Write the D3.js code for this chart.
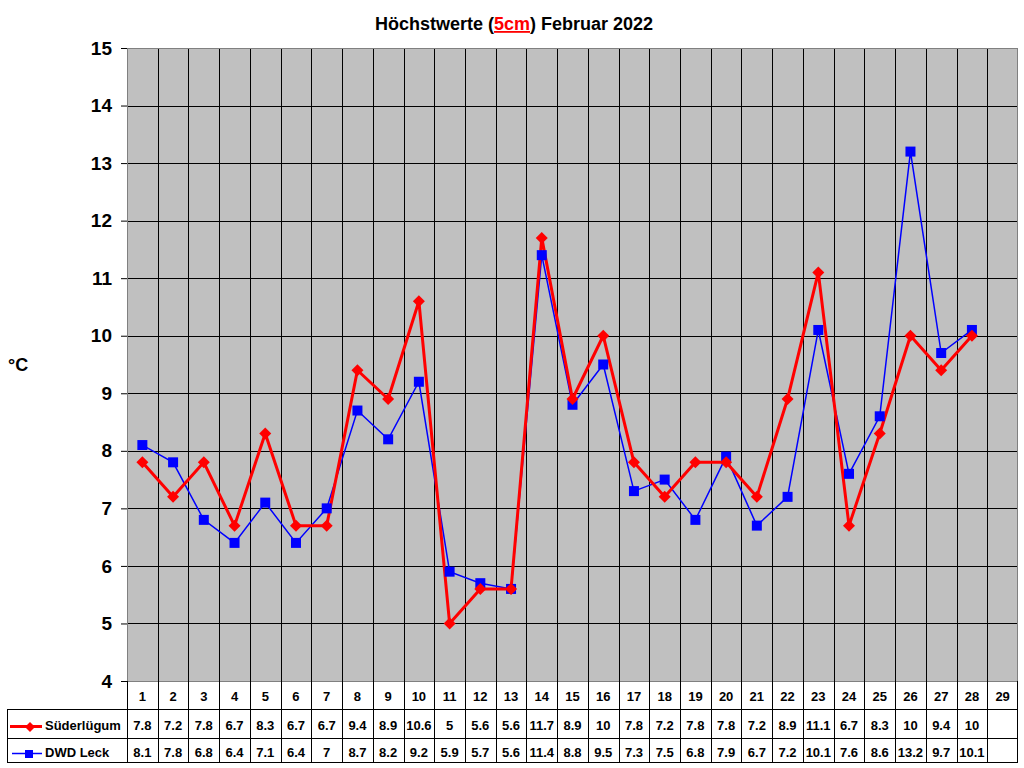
<!DOCTYPE html>
<html>
<head>
<meta charset="utf-8">
<script src="https://cdn.jsdelivr.net/npm/d3@7"></script>
<style>
  body { margin: 0; background: #fff; }
  text { font-family: 'Liberation Sans', Arial, sans-serif; font-weight: bold; }
</style>
</head>
<body>
<svg width="1024" height="768"></svg>
<script>
// days of february (29 columns, last one empty)
let days = d3.range(1, 30)
let sueder = [7.8, 7.2, 7.8, 6.7, 8.3, 6.7, 6.7, 9.4, 8.9, 10.6, 5, 5.6, 5.6, 11.7, 8.9, 10, 7.8, 7.2, 7.8, 7.8, 7.2, 8.9, 11.1, 6.7, 8.3, 10, 9.4, 10]
let leck = [8.1, 7.8, 6.8, 6.4, 7.1, 6.4, 7, 8.7, 8.2, 9.2, 5.9, 5.7, 5.6, 11.4, 8.8, 9.5, 7.3, 7.5, 6.8, 7.9, 6.7, 7.2, 10.1, 7.6, 8.6, 13.2, 9.7, 10.1]
let yTicks = d3.range(4, 16)

let svg = d3.select('svg')
let pLeft = 127, pRight = 1018, pTop = 48, pBottom = 681

let x = d3.scaleBand().domain(days).range([pLeft, pRight])
let y = d3.scaleLinear().domain([4, 15]).range([pBottom, pTop])

// title
let title = svg.append('text')
  .attr('x', 514).attr('y', 30)
  .attr('text-anchor', 'middle')
  .style('font-size', '18px')
title.append('tspan').text('Höchstwerte (')
title.append('tspan').text('5cm').attr('fill', '#ff0000').style('text-decoration', 'underline')
title.append('tspan').text(') Februar 2022')

// plot background
svg.append('rect')
  .attr('x', pLeft).attr('y', pTop)
  .attr('width', pRight - pLeft).attr('height', pBottom - pTop)
  .attr('fill', '#c0c0c0')

// vertical grid lines
svg.append('g').selectAll('line')
  .data(days.slice(1))
  .join('line')
  .attr('x1', d => Math.round(x(d)) + 0.5).attr('x2', d => Math.round(x(d)) + 0.5)
  .attr('y1', pTop).attr('y2', pBottom)
  .attr('stroke', '#000')

// horizontal grid lines
svg.append('g').selectAll('line')
  .data(yTicks)
  .join('line')
  .attr('x1', pLeft).attr('x2', pRight)
  .attr('y1', d => Math.round(y(d)) + 0.5).attr('y2', d => Math.round(y(d)) + 0.5)
  .attr('stroke', d => d === 15 ? '#808080' : '#000')

// y axis
let yAxis = svg.append('g')
  .attr('transform', 'translate(' + pLeft + ',0)')
  .call(d3.axisLeft(y).tickValues(yTicks).tickSize(6).tickPadding(9).tickFormat(d3.format('d')))
yAxis.select('.domain').remove()
yAxis.selectAll('line').attr('stroke', '#000')
yAxis.selectAll('text')
  .style('font-size', '19px')
  .style('font-family', "'Liberation Sans', Arial, sans-serif")
  .style('font-weight', 'bold')
  .attr('fill', '#000')

svg.append('text')
  .attr('x', 8).attr('y', 371)
  .style('font-size', '18px')
  .text('°C')

// plot border
svg.append('rect')
  .attr('x', pLeft + 0.5).attr('y', pTop + 0.5)
  .attr('width', pRight - pLeft - 1).attr('height', pBottom - pTop)
  .attr('fill', 'none').attr('stroke', '#808080')

// lines
let line = d3.line()
  .x((d, i) => x(days[i]) + x.bandwidth() / 2)
  .y(d => y(d))

svg.append('path')
  .datum(leck)
  .attr('fill', 'none')
  .attr('stroke', '#0000ff')
  .attr('stroke-width', 1.5)
  .attr('d', line)

svg.append('path')
  .datum(sueder)
  .attr('fill', 'none')
  .attr('stroke', '#ff0000')
  .attr('stroke-width', 3)
  .attr('stroke-linejoin', 'round')
  .attr('d', line)

svg.append('g').selectAll('rect')
  .data(leck)
  .join('rect')
  .attr('x', (d, i) => x(days[i]) + x.bandwidth() / 2 - 5)
  .attr('y', d => y(d) - 5)
  .attr('width', 10).attr('height', 10)
  .attr('fill', '#0000ff')

svg.append('g').selectAll('path')
  .data(sueder)
  .join('path')
  .attr('transform', (d, i) => 'translate(' + (x(days[i]) + x.bandwidth() / 2) + ',' + y(d) + ')')
  .attr('d', 'M0,-6L6,0L0,6L-6,0Z')
  .attr('fill', '#ff0000')

// data table
let table = svg.append('g')

// horizontal lines of the table
table.selectAll('.hl')
  .data([709, 738, 762])
  .join('line')
  .attr('x1', 7).attr('x2', pRight)
  .attr('y1', d => d + 0.5).attr('y2', d => d + 0.5)
  .attr('stroke', '#000')

// vertical lines of the table
table.selectAll('.vl')
  .data(days.concat([30]))
  .join('line')
  .attr('x1', d => d === 30 ? pRight - 0.5 : Math.round(x(d)) + 0.5)
  .attr('x2', d => d === 30 ? pRight - 0.5 : Math.round(x(d)) + 0.5)
  .attr('y1', pBottom).attr('y2', 762)
  .attr('stroke', '#000')
table.append('line')
  .attr('x1', 7.5).attr('x2', 7.5).attr('y1', 709).attr('y2', 762)
  .attr('stroke', '#000')

// day labels
table.selectAll('.day')
  .data(days)
  .join('text')
  .attr('x', d => x(d) + x.bandwidth() / 2)
  .attr('y', 701)
  .attr('text-anchor', 'middle')
  .style('font-size', '13px')
  .text(d => d)

let rows = [
  {name: 'Süderlügum', vals: sueder, y: 730, color: '#ff0000'},
  {name: 'DWD Leck', vals: leck, y: 757, color: '#0000ff'}
]

rows.forEach(r => {
  table.append('g').selectAll('text')
    .data(r.vals)
    .join('text')
    .attr('x', (d, i) => x(days[i]) + x.bandwidth() / 2)
    .attr('y', r.y)
    .attr('text-anchor', 'middle')
    .style('font-size', '13px')
    .text(d => d)
  table.append('text')
    .attr('x', 45).attr('y', r.y)
    .style('font-size', '13px')
    .text(r.name)
  table.append('line')
    .attr('x1', r.name === 'DWD Leck' ? 12 : 10).attr('x2', 42)
    .attr('y1', r.y - 3.5).attr('y2', r.y - 3.5)
    .attr('stroke', r.color)
    .attr('stroke-width', r.name === 'DWD Leck' ? 1.5 : 3)
})
// legend markers
table.append('path')
  .attr('transform', 'translate(30,727)')
  .attr('d', 'M0,-5L5,0L0,5L-5,0Z')
  .attr('fill', '#ff0000')
table.append('rect')
  .attr('x', 25).attr('y', 750)
  .attr('width', 8).attr('height', 8)
  .attr('fill', '#0000ff')
</script>
</body>
</html>
